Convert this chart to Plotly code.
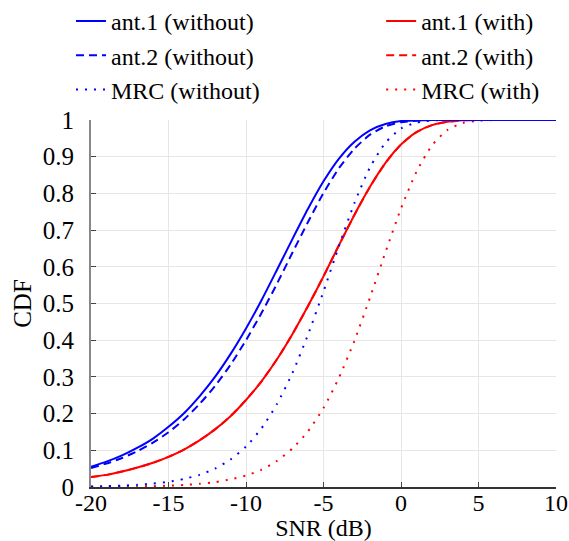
import plotly.graph_objects as go

snr_db = list(range(-20, 11))

ant1_without = [0.055, 0.069, 0.086, 0.107, 0.132, 0.164, 0.201, 0.247, 0.300, 0.362, 0.432,
                0.509, 0.592, 0.676, 0.758, 0.833, 0.895, 0.941, 0.972, 0.989, 0.997,
                0.999, 1.0, 1.0, 1.0, 1.0, 1.0, 1.0, 1.0, 1.0, 1.0]
ant2_without = [0.052, 0.064, 0.079, 0.098, 0.121, 0.149, 0.184, 0.226, 0.275, 0.333, 0.400,
                0.474, 0.554, 0.639, 0.722, 0.801, 0.869, 0.922, 0.960, 0.983, 0.994,
                0.998, 1.0, 1.0, 1.0, 1.0, 1.0, 1.0, 1.0, 1.0, 1.0]
mrc_without = [0.0015, 0.0024, 0.0038, 0.0059, 0.0092, 0.014, 0.022, 0.033, 0.050, 0.075, 0.110,
               0.160, 0.226, 0.311, 0.415, 0.533, 0.657, 0.774, 0.871, 0.938, 0.977,
               0.993, 0.999, 1.0, 1.0, 1.0, 1.0, 1.0, 1.0, 1.0, 1.0]
ant1_with = [0.027, 0.033, 0.042, 0.053, 0.066, 0.082, 0.102, 0.127, 0.157, 0.193, 0.237,
             0.288, 0.348, 0.417, 0.493, 0.574, 0.659, 0.742, 0.818, 0.883, 0.933,
             0.967, 0.986, 0.995, 0.999, 1.0, 1.0, 1.0, 1.0, 1.0, 1.0]
ant2_with = [0.027, 0.033, 0.042, 0.053, 0.066, 0.082, 0.102, 0.127, 0.157, 0.193, 0.237,
             0.288, 0.348, 0.417, 0.493, 0.574, 0.659, 0.742, 0.818, 0.883, 0.933,
             0.967, 0.986, 0.995, 0.999, 1.0, 1.0, 1.0, 1.0, 1.0, 1.0]
mrc_with = [0.0004, 0.0006, 0.0009, 0.0015, 0.0023, 0.0035, 0.0055, 0.0086, 0.013, 0.021, 0.031,
            0.047, 0.071, 0.105, 0.152, 0.215, 0.298, 0.399, 0.516, 0.640, 0.759,
            0.859, 0.931, 0.973, 0.992, 0.998, 1.0, 1.0, 1.0, 1.0, 1.0]

x_ticks = [-20, -15, -10, -5, 0, 5, 10]
x_tick_text = ["-20", "-15", "-10", "-5", "0", "5", "10"]
y_ticks = [0, 0.1, 0.2, 0.3, 0.4, 0.5, 0.6, 0.7, 0.8, 0.9, 1]
y_tick_text = ["0", "0.1", "0.2", "0.3", "0.4", "0.5", "0.6", "0.7", "0.8", "0.9", "1"]

BLUE = "#0000ff"
RED = "#ff0000"
FONT = "Liberation Serif, Times New Roman, serif"

series = [
    # name, values, color, dash, legend, rank
    ("ant.2 (with)", ant2_with, RED, "8px,5px", "legend2", 2),
    ("ant.1 (with)", ant1_with, RED, "solid", "legend2", 1),
    ("MRC (with)", mrc_with, RED, "2px,7px", "legend2", 3),
    ("MRC (without)", mrc_without, BLUE, "2px,7px", "legend", 3),
    ("ant.2 (without)", ant2_without, BLUE, "8px,5px", "legend", 2),
    ("ant.1 (without)", ant1_without, BLUE, "solid", "legend", 1),
]

fig = go.Figure()
for name, vals, color, dash, leg, rank in series:
    fig.add_trace(go.Scatter(
        x=snr_db, y=vals, mode="lines", name=name,
        line=dict(color=color, width=2, dash=dash, shape="spline", smoothing=0.6),
        legend=leg, legendrank=rank,
    ))

legend_common = dict(
    orientation="v", yanchor="top", y=1.33, xanchor="left",
    font=dict(family=FONT, size=24, color="black"), bgcolor="rgba(0,0,0,0)",
    tracegroupgap=0, itemwidth=30,
)

fig.update_layout(
    width=569, height=541,
    margin=dict(l=91, r=13, t=120, b=54, autoexpand=False),
    paper_bgcolor="white", plot_bgcolor="white",
    font=dict(family=FONT, size=25, color="black"),
    legend=dict(x=-0.043, **legend_common),
    legend2=dict(x=0.624, **legend_common),
    xaxis=dict(
        range=[-20, 10], tickvals=x_ticks, ticktext=x_tick_text, ticks="inside", ticklen=5,
        tickcolor="#444", automargin=False,
        showgrid=True, gridcolor="#e6e6e6", gridwidth=1, zeroline=False,
        showline=True, linecolor="#333", linewidth=1.5,
        title=dict(text="SNR (dB)", standoff=4, font=dict(family=FONT, size=24)),
        ticklabelstandoff=-7,
        tickfont=dict(family=FONT, size=24),
    ),
    yaxis=dict(
        range=[0, 1], tickvals=y_ticks, ticktext=y_tick_text, ticks="inside", ticklen=5,
        tickcolor="#444", automargin=False,
        showgrid=True, gridcolor="#e6e6e6", gridwidth=1, zeroline=False,
        showline=True, linecolor="#888", linewidth=2,
        title=dict(text="CDF", standoff=4, font=dict(family=FONT, size=25)),
        ticklabelstandoff=10,
        tickfont=dict(family=FONT, size=25),
    ),
)

fig.write_html("out.html", config={"displayModeBar": False},
               post_script="document.body.style.margin='0px';")
